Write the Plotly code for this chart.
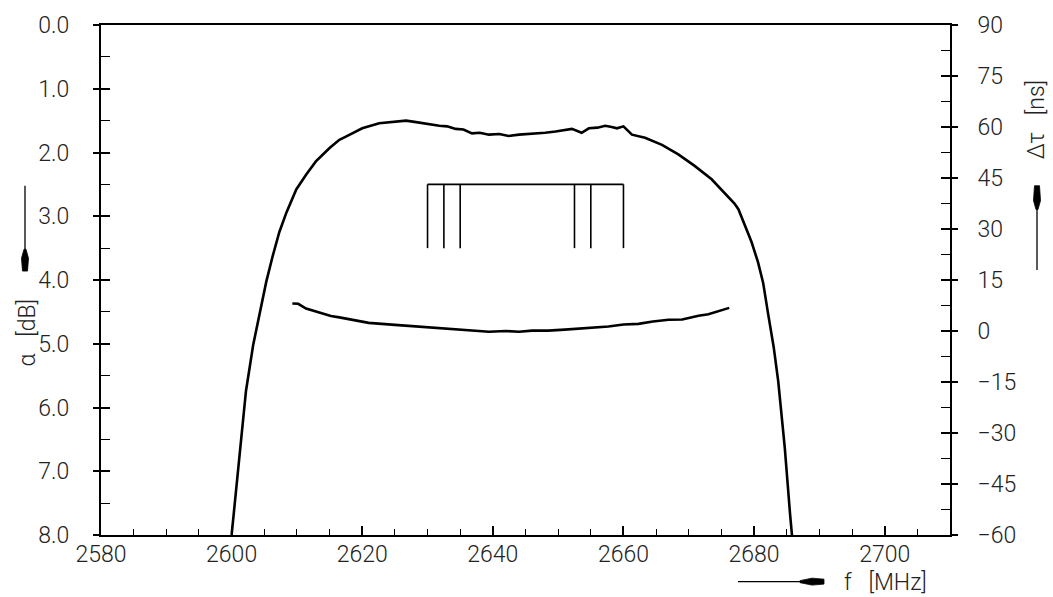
import plotly.graph_objects as go

# Attenuation curve (left axis, dB, reversed)
atten_f = [2600.0, 2600.7, 2601.5, 2602.2, 2603.3, 2604.3, 2605.3, 2606.3, 2607.3, 2608.4,
           2609.9, 2611.4, 2612.9, 2615.0, 2616.5, 2617.5, 2620.0, 2622.6, 2625.1, 2626.7,
           2628.0, 2629.2, 2630.5, 2631.8, 2633.0, 2634.3, 2635.5, 2636.8, 2638.0, 2639.4,
           2641.0, 2642.4, 2644.0, 2645.5, 2647.0, 2648.0, 2649.6, 2651.0, 2652.1,
           2653.6, 2654.7, 2656.0, 2657.2, 2658.2, 2659.0, 2660.0, 2661.3, 2663.3, 2665.9, 2668.4,
           2670.9, 2673.5, 2676.0, 2677.0, 2677.6, 2678.6, 2679.6, 2680.6, 2681.4, 2682.1,
           2683.0, 2683.7, 2684.7, 2685.5, 2685.8]
atten_db = [8.0, 7.30, 6.42, 5.74, 5.02, 4.55, 4.03, 3.62, 3.25, 2.94,
            2.58, 2.35, 2.14, 1.93, 1.80, 1.75, 1.62, 1.54, 1.51, 1.50,
            1.52, 1.54, 1.55, 1.58, 1.59, 1.63, 1.64, 1.70, 1.69, 1.72,
            1.71, 1.74, 1.72, 1.71, 1.70, 1.69, 1.67, 1.65, 1.63,
            1.69, 1.62, 1.61, 1.58, 1.60, 1.62, 1.59, 1.72, 1.77, 1.88, 2.03,
            2.21, 2.42, 2.68, 2.80, 2.89, 3.14, 3.40, 3.72, 4.05, 4.50,
            5.05, 5.59, 6.63, 7.66, 8.0]

# Group delay curve (right axis, ns)
delay_f = [2609.3, 2610.2, 2611.4, 2612.6, 2613.9, 2615.2, 2616.5, 2618.5, 2621.0, 2625.0,
           2628.7, 2631.5, 2634.8, 2637.0, 2639.4, 2642.0, 2644.0, 2646.0, 2648.5, 2651.0,
           2653.1, 2655.5, 2657.7, 2660.0, 2662.3, 2664.5, 2666.9, 2669.0, 2671.5, 2673.0,
           2674.5, 2676.2]
delay_ns = [8.1, 8.0, 6.6, 5.9, 5.0, 4.4, 4.0, 3.2, 2.4, 1.8,
            1.3, 0.9, 0.4, 0.1, -0.2, 0.0, -0.2, 0.1, 0.1, 0.4,
            0.7, 1.0, 1.3, 1.9, 2.1, 2.8, 3.3, 3.4, 4.5, 4.9,
            5.7, 6.8]

# Tolerance scheme
tol_f = [2630.0, 2632.5, 2635.0, 2652.5, 2655.0, 2660.0]
tol_top = 2.5
tol_bottom = 3.5

x_ticks = [2580, 2600, 2620, 2640, 2660, 2680, 2700]
y_ticks = [0, 1, 2, 3, 4, 5, 6, 7, 8]
y2_ticks = [90, 75, 60, 45, 30, 15, 0, -15, -30, -45, -60]

FONT = "Roboto"
TXT = "#222222"
tick_font = dict(family=FONT, size=23, color=TXT, weight=300)

fig = go.Figure()

fig.add_trace(go.Scatter(x=atten_f, y=atten_db, mode="lines",
                         line=dict(color="black", width=2.6), yaxis="y", showlegend=False))
fig.add_trace(go.Scatter(x=delay_f, y=delay_ns, mode="lines",
                         line=dict(color="black", width=2.6), yaxis="y2", showlegend=False))

bx, by = [tol_f[0], tol_f[-1], None], [tol_top, tol_top, None]
for f in tol_f:
    bx += [f, f, None]
    by += [tol_top, tol_bottom, None]
fig.add_trace(go.Scatter(x=bx, y=by, mode="lines",
                         line=dict(color="black", width=1.6), yaxis="y", showlegend=False))

axis_common = dict(showgrid=False, zeroline=False, linecolor="black", linewidth=2,
                   tickcolor="black", tickwidth=1.5, tickfont=tick_font)

fig.update_layout(
    width=1053, height=597,
    margin=dict(l=101, r=103, t=21, b=62),
    paper_bgcolor="white", plot_bgcolor="white",
    xaxis=dict(range=[2580, 2710], tickvals=x_ticks, ticks="inside", ticklen=9,
               minor=dict(dtick=5, ticks="inside", ticklen=6, tickcolor="black", tickwidth=1.2),
               mirror=True, showline=True, ticklabelstandoff=-3, **axis_common),
    yaxis=dict(range=[8, 0], tickvals=y_ticks, tickformat=".1f", ticks="outside", ticklen=6,
               showline=True, ticklabelstandoff=19, **axis_common),
    yaxis3=dict(range=[8, 0], overlaying="y", side="left", anchor="x", tickvals=y_ticks,
                ticks="inside", ticklen=9, showticklabels=False,
                minor=dict(dtick=0.5, ticks="inside", ticklen=9, tickcolor="black", tickwidth=1.2),
                showline=False, showgrid=False, zeroline=False, tickcolor="black", tickwidth=1.5),
    yaxis2=dict(range=[-60, 90], overlaying="y", side="right", anchor="x", tickvals=y2_ticks,
                ticks="outside", ticklen=6, showline=True, ticklabelstandoff=15, **axis_common),
    yaxis4=dict(range=[-60, 90], overlaying="y", side="right", anchor="x", tickvals=y2_ticks,
                ticks="inside", ticklen=9, showticklabels=False,
                minor=dict(dtick=7.5, ticks="inside", ticklen=9, tickcolor="black", tickwidth=1.2),
                showline=False, showgrid=False, zeroline=False, tickcolor="black", tickwidth=1.5),
)

# invisible traces to activate overlay tick axes
fig.add_trace(go.Scatter(x=[2580], y=[0], yaxis="y3", mode="markers",
                         marker=dict(opacity=0), showlegend=False, hoverinfo="skip"))
fig.add_trace(go.Scatter(x=[2580], y=[0], yaxis="y4", mode="markers",
                         marker=dict(opacity=0), showlegend=False, hoverinfo="skip"))

def px(xp):
    return (xp - 101) / 849.0

def py(yp):
    return (535 - yp) / 514.0

def poly(points):
    return "M " + " L ".join(f"{px(a):.5f},{py(b):.5f}" for a, b in points) + " Z"

def line(x0, y0, x1, y1):
    fig.add_shape(type="line", xref="paper", yref="paper", x0=px(x0), y0=py(y0),
                  x1=px(x1), y1=py(y1), line=dict(color="black", width=1.3))

def head(points):
    fig.add_shape(type="path", xref="paper", yref="paper", path=poly(points),
                  fillcolor="black", line=dict(color="black", width=0.8))

lab_font = dict(family=FONT, size=23, color=TXT, weight=300)
SP = "\u00a0\u00a0\u00a0"

# bottom axis arrow + label
AY = 582
line(738, AY, 805, AY)
head([(800, AY - 1.0), (812, AY - 3.5), (824, AY - 2.5), (824, AY + 2.5), (812, AY + 3.5), (800, AY + 1.0)])
fig.add_annotation(x=px(842), y=py(583), text="f" + SP + "[MHz]", showarrow=False, xref="paper", yref="paper",
                   xanchor="left", yanchor="middle", font=lab_font)
# left axis arrow + label
LX = 25
line(LX, 183, LX, 250)
head([(LX - 1.0, 247), (LX - 3.5, 256), (LX - 2.5, 269), (LX + 2.5, 269), (LX + 3.5, 256), (LX + 1.0, 247)])
fig.add_annotation(x=px(28), y=py(331), text="α" + SP + "[dB]", showarrow=False, xref="paper", yref="paper",
                   xanchor="center", yanchor="middle", textangle=-90, font=lab_font)
# right axis arrow + label
RX = 1037
line(RX, 268, RX, 200)
head([(RX - 1.0, 207), (RX - 3.5, 198), (RX - 2.5, 183), (RX + 2.5, 183), (RX + 3.5, 198), (RX + 1.0, 207)])
fig.add_annotation(x=px(1036), y=py(117), text="Δτ" + SP + "[ns]", showarrow=False, xref="paper", yref="paper",
                   xanchor="center", yanchor="middle", textangle=-90, font=lab_font)

fig.write_html("out.html")
